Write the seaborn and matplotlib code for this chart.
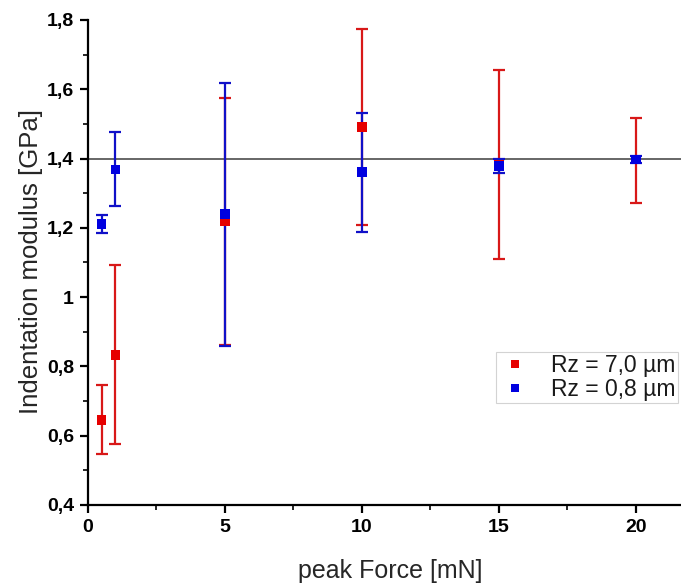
import numpy as np
import pandas as pd
import matplotlib
matplotlib.use("Agg")
import matplotlib.pyplot as plt
import seaborn as sns
from matplotlib.ticker import FixedLocator, FuncFormatter

# ---- data ----
force = [0.5, 1, 5, 10, 15, 20]
red_label = "Rz = 7,0 µm"
blue_label = "Rz = 0,8 µm"
red_mean = [0.646, 0.833, 1.218, 1.491, 1.381, 1.397]
red_low = [0.548, 0.576, 0.862, 1.209, 1.110, 1.272]
red_high = [0.746, 1.092, 1.575, 1.773, 1.657, 1.518]
blue_mean = [1.212, 1.368, 1.240, 1.361, 1.378, 1.397]
blue_low = [1.185, 1.262, 0.860, 1.189, 1.357, 1.387]
blue_high = [1.237, 1.476, 1.619, 1.532, 1.399, 1.407]
ref_line = 1.4

sns.set_style("ticks")
plt.rcParams["font.family"] = ["Liberation Sans", "DejaVu Sans"]

RED = "#e60000"
BLUE = "#0000e0"

df = pd.DataFrame({
    "force": force * 2,
    "modulus": red_mean + blue_mean,
    "sample": [red_label] * len(force) + [blue_label] * len(force),
})

fig = plt.figure(figsize=(6.81, 5.83), dpi=100)
ax = fig.add_axes([0.1292, 0.1338, 0.8708, 0.8319])

ax.axhline(ref_line, color="#666666", lw=1.4, zorder=1)

for mean, lo, hi, col in [(red_mean, red_low, red_high, "#d81818"),
                          (blue_mean, blue_low, blue_high, "#1010c8")]:
    m = np.array(mean); l = np.array(lo); h = np.array(hi)
    ax.errorbar(force, m, yerr=[m - l, h - m], fmt="none", ecolor=col,
                elinewidth=1.6, capsize=4, capthick=1.6, zorder=2)

sns.scatterplot(data=df, x="force", y="modulus", hue="sample",
                palette={red_label: RED, blue_label: BLUE}, marker="s",
                s=48, edgecolor="none", linewidth=0, ax=ax, zorder=3,
                legend=True)

ax.set_xlim(0, 21.65)
ax.set_ylim(0.4, 1.8)
ax.xaxis.set_major_locator(FixedLocator([0, 5, 10, 15, 20]))
ax.xaxis.set_minor_locator(FixedLocator([2.5, 7.5, 12.5, 17.5]))
ax.yaxis.set_major_locator(FixedLocator([0.4, 0.6, 0.8, 1.0, 1.2, 1.4, 1.6, 1.8]))
ax.yaxis.set_minor_locator(FixedLocator([0.5, 0.7, 0.9, 1.1, 1.3, 1.5, 1.7]))

def yfmt(v, p):
    s = f"{v:.1f}"
    if s.endswith(".0"):
        s = s[:-2]
    return s.replace(".", ",")

ax.yaxis.set_major_formatter(FuncFormatter(yfmt))
ax.xaxis.set_major_formatter(FuncFormatter(lambda v, p: f"{v:g}"))

for sp in ["top", "right"]:
    ax.spines[sp].set_visible(False)
for sp in ["left", "bottom"]:
    ax.spines[sp].set_linewidth(1.6)
    ax.spines[sp].set_color("black")

ax.tick_params(axis="both", which="major", direction="out", length=6, width=1.6,
               labelsize=14, colors="black", pad=4)
ax.tick_params(axis="both", which="minor", direction="out", length=3.5, width=1.4)
for lab in ax.get_xticklabels() + ax.get_yticklabels():
    lab.set_fontweight("bold")

ax.set_xlabel("peak Force [mN]", fontsize=18)
ax.set_ylabel("Indentation modulus [GPa]", fontsize=18.5)
ax.xaxis.set_label_coords(390 / 681, (583 - 571) / 583, transform=fig.transFigure)
ax.xaxis.label.set_va("center")
ax.yaxis.set_label_coords(31 / 681, (583 - 262) / 583, transform=fig.transFigure)
ax.yaxis.label.set_va("center")

leg = ax.legend(loc="upper left", bbox_to_anchor=(496 / 681, (583 - 352) / 583),
                bbox_transform=fig.transFigure, frameon=True, fancybox=False,
                fontsize=16.5, handletextpad=0.8, borderpad=0.1,
                labelspacing=0.02, markerscale=0.85, borderaxespad=0,
                handlelength=1.5)
leg.get_frame().set_edgecolor("#c8c8c8")
leg.get_frame().set_linewidth(0.8)
for t in leg.get_texts():
    t.set_color("#1a1a1a")

fig.savefig("out.png", dpi=100)
